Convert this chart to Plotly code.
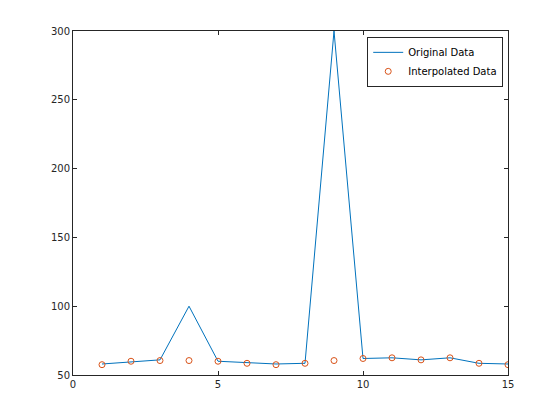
import plotly.graph_objects as go

x_vals = list(range(1, 16))
original = [58, 59.5, 61, 100, 60, 59, 58, 58.5, 300, 62, 62.5, 61, 62.5, 58.5, 58]
interpolated = [57.5, 60, 60.5, 60.5, 60, 58.5, 57.5, 58.5, 60.5, 62, 62.5, 61, 62.5, 58.5, 57.5]
x_ticks = [0, 5, 10, 15]
y_ticks = [50, 100, 150, 200, 250, 300]

fig = go.Figure()
fig.add_trace(go.Scatter(x=x_vals, y=original, mode="lines", name="Original Data",
                         line=dict(color="#0072BD", width=1)))
fig.add_trace(go.Scatter(x=x_vals, y=interpolated, mode="markers", name="Interpolated Data",
                         marker=dict(symbol="circle-open", color="#D95319", size=6,
                                     line=dict(width=1, color="#D95319"))))

axis_common = dict(showgrid=False, zeroline=False, showline=True, linecolor="#262626",
                   linewidth=1, mirror="ticks", ticks="inside", ticklen=4,
                   tickcolor="#262626", tickfont=dict(family="DejaVu Sans", size=10, color="#262626"))
fig.update_xaxes(range=[0, 15], tickvals=x_ticks, **axis_common)
fig.update_yaxes(range=[50, 300], tickvals=y_ticks, **axis_common)

fig.update_layout(
    width=552, height=412,
    margin=dict(l=65, r=52, t=23, b=45),
    paper_bgcolor="white", plot_bgcolor="white",
    showlegend=True,
    legend=dict(x=0.989, y=0.983, xanchor="right", yanchor="top",
                bgcolor="white", bordercolor="#262626", borderwidth=1,
                font=dict(family="DejaVu Sans", size=10, color="#000000"),
                tracegroupgap=0, itemwidth=30),
)
fig.write_html("out.html")
